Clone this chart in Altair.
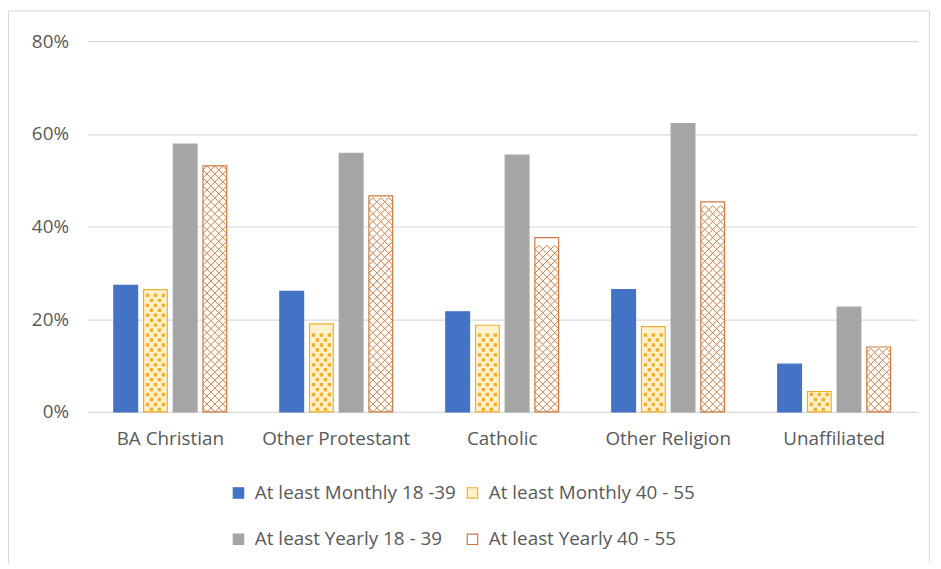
import altair as alt
import pandas as pd

categories = ["BA Christian", "Other Protestant", "Catholic", "Other Religion", "Unaffiliated"]
series = ["At least Monthly 18 -39", "At least Monthly 40 - 55",
          "At least Yearly 18 - 39", "At least Yearly 40 - 55"]
monthly_18_39 = [27.3, 26.0, 21.6, 26.4, 10.3]
monthly_40_55 = [26.4, 19.0, 18.7, 18.4, 4.4]
yearly_18_39 = [57.8, 55.8, 55.4, 62.2, 22.6]
yearly_40_55 = [53.1, 46.6, 37.6, 45.3, 14.0]
y_ticks = [0, 0.2, 0.4, 0.6, 0.8]

values_by_series = [monthly_18_39, monthly_40_55, yearly_18_39, yearly_40_55]

rows = []
for s, vals in zip(series, values_by_series):
    for c, v in zip(categories, vals):
        rows.append({"category": c, "series": s, "value": v / 100.0})
df = pd.DataFrame(rows)

W, H = 837, 374
px_per_unit = H / 0.8
FONT = "Open Sans"
TXT = "#595959"
fill_colors = ["#4472c4", "#fff1cc", "#a5a5a5", "#ffffff"]
stroke_colors = ["#4472c4", "#eeae30", "#a5a5a5", "#c97a40"]
dot_color = "#eeae30"
hatch_color = "#c97a40"

# pattern rows derived from the bar values
def pattern_rows(vals, s, step_px):
    step = step_px / px_per_unit
    out = []
    for c, v in zip(categories, vals):
        k = 0
        while (k + 1) * step <= v / 100.0 + 1e-9:
            out.append({"category": c, "series": s, "value": (k + 0.5) * step})
            k += 1
    return pd.DataFrame(out)

dots_df = pattern_rows(monthly_40_55, series[1], 10)
hatch_df = pattern_rows(yearly_40_55, series[3], 8)

u = 1 / 12.0  # units per px for symbol size 576
def sq(cx, cy, h):
    return f"M{(cx-h)*u:.4f},{(cy-h)*u:.4f}L{(cx+h)*u:.4f},{(cy-h)*u:.4f}L{(cx+h)*u:.4f},{(cy+h)*u:.4f}L{(cx-h)*u:.4f},{(cy+h)*u:.4f}Z"
dot_path = "".join([sq(x, -2.5, 1.7) for x in (-8, 0, 8)] + [sq(x, 2.5, 1.7) for x in (-4, 4)])
def dia(cx, h):
    return f"M{(cx-h)*u:.4f},0L{cx*u:.4f},{-h*u:.4f}L{(cx+h)*u:.4f},0L{cx*u:.4f},{h*u:.4f}Z"
hatch_path = "".join(dia(x, 4) for x in (-8, 0, 8))

x_enc = alt.X("category:N", title=None,
              scale=alt.Scale(domain=categories, paddingInner=0.32, paddingOuter=0.16),
              axis=alt.Axis(labelAngle=0, labelFontSize=19, labelColor=TXT, labelFont=FONT,
                            labelPadding=18, domain=False, ticks=False))
xo_enc = alt.XOffset("series:N", scale=alt.Scale(domain=series, paddingInner=0.2, paddingOuter=0))
y_enc = alt.Y("value:Q", title=None, scale=alt.Scale(domain=[0, 0.8]),
              axis=alt.Axis(values=y_ticks, format=".0%", labelFontSize=19, labelColor=TXT,
                            labelFont=FONT, labelPadding=19, domain=False, ticks=False,
                            gridColor="#d9d9d9", gridWidth=1.2))

legend = alt.Legend(title=None, orient="none", legendX=143, legendY=446, direction="horizontal",
                    columns=2, symbolType="square", symbolSize=110, symbolStrokeWidth=1.2,
                    labelFontSize=19, labelFont=FONT, labelColor=TXT, labelOffset=7,
                    labelLimit=400, columnPadding=7, rowPadding=27, padding=0)

bars = alt.Chart(df).mark_bar(strokeWidth=1.2).encode(
    x=x_enc, xOffset=xo_enc, y=y_enc,
    fill=alt.Fill("series:N", scale=alt.Scale(domain=series, range=fill_colors), legend=legend),
    stroke=alt.Stroke("series:N", scale=alt.Scale(domain=series, range=stroke_colors), legend=legend),
)

dots = alt.Chart(dots_df).mark_point(shape=dot_path, size=576, filled=True, color=dot_color,
                                     strokeWidth=0, opacity=1).encode(
    x=x_enc, xOffset=xo_enc, y=y_enc)

hatch = alt.Chart(hatch_df).mark_point(shape=hatch_path, size=576, filled=False, color=hatch_color,
                                       strokeWidth=1, opacity=1).encode(
    x=x_enc, xOffset=xo_enc, y=y_enc)

frame = alt.Chart(pd.DataFrame({"a": [0]})).mark_rect(
    fillOpacity=0, stroke="#d9d9d9", strokeWidth=1).encode(
    x=alt.value(-79.5), x2=alt.value(849.5), y=alt.value(-30.5), y2=alt.value(600))

chart = alt.layer(frame, bars, dots, hatch).properties(
    width=W, height=H,
    autosize=alt.AutoSizeParams(type="none"),
    padding={"left": 80, "top": 31, "right": 16, "bottom": 150},
).configure(background="white", view=alt.ViewConfig(stroke=None))

chart.save("out.html", embed_options={"renderer": "svg", "actions": False})
